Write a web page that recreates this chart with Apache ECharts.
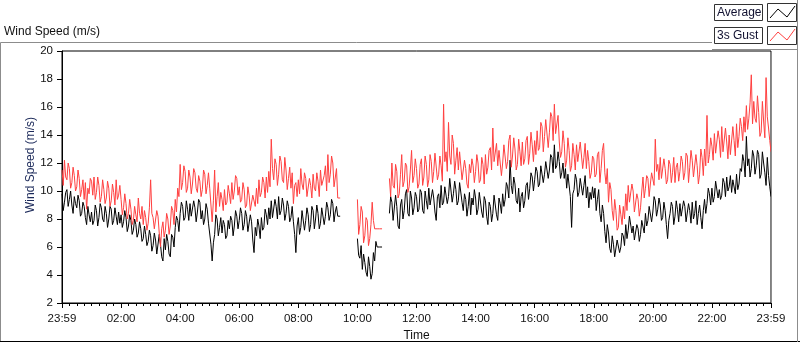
<!DOCTYPE html>
<html>
<head>
<meta charset="utf-8">
<script src="https://cdn.jsdelivr.net/npm/echarts@6/dist/echarts.min.js"></script>
<style>
html,body{margin:0;padding:0;background:#fff;}
#chart{width:800px;height:342px;}
</style>
</head>
<body>
<div id="chart"></div>
<script>
// sample spacing (minutes); first sample at 23:59 of previous day (minute 0)
const stepMin = 5;
const xTickLabels = ['23:59','02:00','04:00','06:00','08:00','10:00','12:00','14:00','16:00','18:00','20:00','22:00','23:59'];
const yTicks = [2,4,6,8,10,12,14,16,18,20];

// Average wind speed (m/s), readings on the 5-minute marks, one row per hour
const avg = [
  9.8, 9.2,10.1, 9.4, 9.0, 9.6, 8.8, 9.3, 8.4, 8.9, 7.6, 8.3,
  8.5, 7.9, 8.6, 8.1, 8.8, 7.8, 8.4, 8.0, 8.7, 7.9, 8.2, 8.5,
  8.3, 7.8, 8.1, 7.5, 7.9, 7.2, 7.6, 7.0, 7.3, 6.6, 6.9, 6.4,
  6.8, 6.1, 6.5, 5.6, 6.2, 5.0, 5.8, 6.4, 5.3, 6.7, 7.4, 7.9,
  8.4, 8.9, 8.1, 8.7, 9.1, 8.3, 8.8, 8.5, 9.2, 8.6, 8.0, 8.7,
  7.8, 5.0, 6.9, 8.0, 7.4, 7.0, 7.6, 6.8, 7.3, 7.9, 7.5, 8.2,
  7.9, 8.4, 7.6, 8.2, 7.0, 7.8, 5.6, 6.8, 7.5, 8.1, 7.4, 8.3,
  8.8, 9.3, 8.2, 8.9, 9.6, 8.6, 9.0, 8.4, 8.9, 8.1, 7.8, 5.6,
  8.1, 7.4, 8.5, 7.9, 8.3, 7.6, 8.6, 8.0, 8.4, 7.7, 8.9, 8.2,
  8.8, 8.3, 9.1, 8.5, 8.2, 8.2, null,null,null,null,null,null,
  6.6, 5.2, 4.4, 4.9, 3.9, 4.6, 4.1, 5.0, 6.0, 6.0, 6.0, null,
  null,8.4, 9.2, 7.8, 8.9, 7.3, 9.4, 8.6,10.1, 8.2, 9.5, 8.8,
  9.6, 8.7, 9.9, 8.4, 9.3,10.2, 8.9, 9.5, 7.9, 9.8,10.4, 9.2,
  10.3,9.6,10.8, 9.8,10.1, 9.3,10.5, 8.6, 9.4, 8.9, 8.3, 9.0,
  9.5, 8.7, 9.8, 8.1, 9.3, 7.6, 8.9, 8.4, 9.6, 7.9, 9.1, 9.8,
  9.4,10.3,12.2, 9.8,10.5, 9.1, 8.5, 9.9, 9.3,10.6,10.2,11.0,
  10.8,11.4,10.5,11.7,11.2,12.0,11.5,12.4,13.3,11.8,12.1,11.3,
  10.9,10.2,11.3, 7.4,10.1,10.8, 9.9,11.0,10.4, 9.5, 8.8, 9.4,
  9.5, 8.6,10.1, 7.8, 8.4, 6.3, 7.0, 5.6, 6.2, 5.4, 6.6, 6.0,
  6.8, 7.6, 7.2, 8.1, 7.5, 6.6, 7.3, 6.9, 7.8, 8.4, 7.9, 8.8,
  8.5, 9.3, 8.7, 9.0, 8.1, 8.6, 6.6, 8.4, 8.9, 8.2, 8.7, 9.1,
  8.3, 8.9, 7.9, 8.6, 9.2, 8.4, 7.6, 9.0, 7.3, 9.4, 9.1, 9.8,
  10.2,9.6,10.8,10.1, 9.7,10.6,11.0,10.3, 9.9,10.7,11.2,10.5,
  11.4,12.1,13.9,12.3,11.6,12.5,11.8,12.6,11.2,12.0,10.4,11.1,
  9.6
];
// Average wind speed, readings half-way between the 5-minute marks
const avgMid = [
  8.6, 9.9, 8.9,10.0, 8.4, 9.1, 9.7, 8.2, 9.2, 8.1, 8.9, 7.8,
  7.6, 9.0, 7.5, 9.1, 8.0, 8.9, 7.4, 8.9, 7.6, 8.8, 7.6, 7.7,
  7.4, 8.6, 7.1, 8.3, 6.9, 8.0, 6.7, 7.8, 6.4, 7.5, 6.1, 7.2,
  5.7, 7.0, 5.5, 6.9, 5.3, 6.6, 6.9, 5.5, 6.9, 6.0, 8.2, 7.1,
  9.2, 7.9, 9.3, 7.9, 8.2, 9.3, 7.8, 9.4, 8.0, 7.6, 9.1, 7.7,
  6.2, 6.3, 8.3, 6.8, 8.1, 7.9, 6.6, 7.9, 8.2, 6.8, 8.6, 7.3,
  8.8, 7.2, 8.6, 7.1, 8.3, 6.5, 7.4, 8.0, 6.6, 7.2, 8.7, 7.6,
  8.0, 8.1, 9.4, 8.0, 8.3, 9.5, 7.9, 9.3, 7.8, 8.9, 6.9, 7.5,
  6.9, 8.6, 7.2, 8.8, 7.1, 8.9, 7.3, 9.0, 7.3, 8.8, 7.6, 9.2,
  7.9, 9.4, 7.8, 8.9, 8.2, null,null,null,null,null,null,null,
  5.4, 6.1, 5.5, 4.2, 5.3, 3.7, 5.6, 6.4, 6.0, 6.0, null,null,
  null,9.6, 7.9, 9.7, 7.5, 9.0, 8.0, 9.8, 8.4,10.0, 8.3, 9.9,
  8.5,10.1, 8.6,10.0, 8.7, 9.0,10.1, 8.5, 9.6, 8.8, 9.0,10.3,
  9.1,10.9, 9.2,10.7, 9.0,10.6, 9.2, 9.8, 8.2, 9.9, 9.5,10.1,
  8.3, 9.9, 8.5, 9.6, 8.2, 9.2, 7.8, 9.7, 8.3, 9.5, 8.4, 8.9,
  10.6,9.5,10.4,11.0, 9.3,10.2, 9.6, 8.8,10.4, 9.4,11.3,10.0,
  11.7,10.3,11.8,10.6,12.1,10.9,12.6,11.3,11.6,12.8,10.9,12.0,
  11.6,11.2, 9.6, 9.8,11.2, 9.6,10.9, 9.7,11.1,10.3, 9.9,10.3,
  10.2,9.4, 8.4, 9.0, 7.1, 7.6, 5.9, 6.8, 5.3, 6.5, 5.6, 7.0,
  6.1, 6.6, 8.2, 7.0, 6.5, 7.6, 6.4, 7.9, 7.0, 7.5, 8.9, 7.8,
  9.6, 8.2, 9.5, 7.9, 9.2, 7.6, 7.9, 9.2, 7.6, 9.3, 7.8, 8.2,
  9.3, 7.8, 9.1, 7.7, 8.0, 9.3, 8.4, 8.1, 8.6, 8.4,10.2, 9.0,
  9.2,10.7, 9.5, 9.4,10.9, 9.6,10.0,11.1,10.8, 9.8,10.1,11.6,
  12.6,11.0,11.8,11.0,12.9,11.2,12.9,10.9,12.8,11.3,12.4,10.3
];

// 3 s gust wind speed (m/s), readings on the 5-minute marks, one row per hour
const gust = [
  11.5,12.2,10.8,11.6,10.6,11.1,10.3,10.9,10.1, 9.4, 8.7, 9.8,
  10.7,11.0, 9.9,10.4, 9.6,10.1, 9.5,10.2, 9.3, 9.9,10.8, 9.7,
  9.4, 8.8, 9.1, 8.4, 8.7, 7.9, 8.3, 9.5, 8.0, 7.6, 8.1, 7.7,
  10.8, 8.1, 7.4, 8.2, 6.0, 7.8, 7.2, 8.0, 7.5, 8.6, 9.4,10.2,
  11.9,10.6,11.4,10.2,11.0,10.5,11.3, 9.9,10.7,10.1,11.2,10.4,
  10.2, 7.8,11.5, 9.6, 8.9, 9.4,10.1, 9.2, 9.8,10.6,10.0,10.9,
  10.3, 9.4,10.1, 9.0, 9.7, 8.5, 9.6,10.2,10.8, 9.9,10.6,11.0,
  11.4,13.7,10.8,11.9,11.2,12.1,10.6,11.5,10.9,10.2, 9.1,10.6,
  10.8,11.6,10.1,10.9, 9.7,10.4,11.2,10.0,10.7,11.5,10.3,11.8,
  12.6,11.2,12.0,10.4, 9.5, 9.5, null,null,null,null,null,null,
  9.4, 7.6, 8.5, 6.8, 7.9, 6.6, 9.2, 7.3, 7.3, 7.3, 7.3, null,
  null,10.9,12.0,10.2,11.4, 9.8,12.6,10.7,11.8,10.3,12.9,11.1,
  11.6,10.5,12.3,11.0,11.9,10.8,12.1,11.4,12.6,11.2,11.8,16.2,
  12.8,14.9,11.9,13.4,12.2,11.5,12.7,10.9,11.6,10.2,11.3,11.8,
  11.4,12.0,10.8,11.9,12.6,11.7,13.1,14.5,12.2,11.8,12.9,12.0,
  13.4,12.1,14.0,12.5,13.0,11.9,12.8,13.5,12.3,13.9,12.7,13.3,
  13.6,14.3,13.1,14.6,13.9,15.0,14.2,15.3,16.2,14.0,13.5,12.8,
  13.4,12.2,12.9,11.8,12.6,13.3,12.0,13.6,12.4,11.6,12.1,11.3,
  12.3,11.2,12.8,11.6,13.4,10.5, 9.2,10.1, 7.9, 8.6, 7.4, 8.3,
  8.9, 9.8,10.4, 9.1,10.0, 8.6, 9.4, 8.8,11.0,10.2,10.9,10.5,
  11.2,13.7,11.9,12.4,11.0,11.6,10.8,11.9,11.3,10.6,12.0,11.4,
  12.1,11.3,12.5,11.7,12.2,10.9,11.8,11.2,12.4,13.0,15.4,12.6,
  13.2,14.1,12.8,13.7,14.6,12.9,13.5,14.0,12.7,13.6,14.8,13.9,
  14.6,15.3,16.1,15.2,18.3,16.4,14.9,15.6,14.2,15.0,18.1,14.5,
  12.8
];
// 3 s gust, readings half-way between the 5-minute marks
const gustMid = [
  10.4,11.0,12.0,10.2,11.7,10.0,11.5, 9.6,10.8,10.6,10.2,10.9,
  9.7, 9.4,11.0, 9.2,10.8, 9.1,10.7, 8.9,10.5, 9.0, 9.4,10.4,
  8.3, 9.8, 8.0, 9.4, 7.6, 8.9, 7.8, 8.4, 8.9, 8.6, 7.2, 8.8,
  8.4, 7.3, 8.6, 7.0, 7.3, 6.7, 8.4, 6.9, 8.9, 7.6, 8.5, 9.6,
  10.1,11.8, 9.9,11.5, 9.8,11.6,10.2,11.1, 9.6,11.5, 9.8,11.3,
  9.0, 9.3, 8.5,10.6, 9.9, 8.6, 9.0,10.4, 9.1, 9.4,11.1, 9.7,
  9.2,10.6, 8.8,10.3, 8.6, 9.7, 8.9, 9.1, 9.6,11.0, 9.5, 9.9,
  10.3,11.6,12.3,10.4,12.5,10.8,12.4,10.1,11.7,11.3,10.4, 9.6,
  9.8,10.5,11.3, 9.6,10.9, 9.5,10.2,11.3, 9.6,10.4,11.1,10.0,
  10.6,12.5,10.3,11.6, 9.5, null,null,null,null,null,null,null,
  6.9, 8.9, 6.3, 8.1, 6.1, 7.6, 7.9, 7.3, 7.3, 7.3, null,null,
  null,9.6,10.4,11.9, 9.5,11.2,10.3,12.0, 9.9,11.5,10.6,12.3,
  10.2,11.9,10.4,12.5,10.3,12.6,10.6,12.7,10.8,12.5,10.7,12.1,
  11.4,12.5,14.0,11.2,13.1,12.8,10.8,12.2,10.5,11.9,12.3,10.6,
  12.6,10.6,12.4,10.5,11.2,12.9,11.5,12.1,13.4,12.9,11.1,13.3,
  11.6,13.6,11.7,13.8,11.5,13.7,11.8,11.9,13.6,11.9,14.2,12.1,
  12.6,12.9,14.9,12.8,15.1,13.1,15.6,13.6,14.1,15.4,12.4,14.3,
  11.7,13.8,11.4,13.4,11.5,12.1,13.5,11.6,13.4,12.9,10.9,12.5,
  11.0,12.6,10.6,12.9,11.3,11.6,10.6, 8.6, 9.4, 7.2, 9.0, 7.6,
  8.0, 8.6, 9.2,10.5, 8.5, 9.8, 8.2,10.0, 9.5,11.1, 9.6,11.3,
  10.4,11.4,10.8,10.9,12.3,10.5,12.2,10.6,12.4,11.7,10.7,12.5,
  10.8,12.7,10.6,12.9,11.0,12.6,10.5,13.0,11.1,11.8,12.0,13.8,
  12.2,12.7,14.3,12.4,12.8,14.5,12.3,12.6,14.6,12.5,13.1,15.2,
  13.6,14.2,14.4,16.3,14.8,15.2,16.8,13.9,16.4,13.8,15.3,13.6
];

const seriesNames = ['Average', '3s Gust'];
const seriesColors = ['#000000', '#ff4040'];

// merge mark readings and half-step readings into [minute, value] pairs
const toPairs = (marks, mids) => {
  const out = [];
  marks.forEach((v, i) => {
    out.push([i * stepMin, v]);
    if (i < mids.length) out.push([i * stepMin + stepMin / 2, mids[i]]);
  });
  return out;
};

const chart = echarts.init(document.getElementById('chart'), null, {renderer: 'canvas'});
const FONT = 'Liberation Sans';
const tickLabelColor = '#111';

const L = 62, R = 771, T = 51, B = 303;

chart.setOption({
  animation: false,
  backgroundColor: '#ffffff',
  grid: {left: L, right: 800 - R, top: T, bottom: 342 - B, containLabel: false, outerBoundsMode: 'none',
         show: true, borderColor: '#000', borderWidth: 1, backgroundColor: '#ffffff'},
  xAxis: {
    type: 'value', min: 0, max: 1440, interval: 120,
    name: 'Time', nameLocation: 'middle', nameGap: 27,
    nameTextStyle: {fontFamily: FONT, fontSize: 12, color: '#111'},
    axisLine: {show: true, lineStyle: {color: '#000', width: 1}},
    axisTick: {show: true, length: 5, lineStyle: {color: '#000'}},
    minorTick: {show: true, splitNumber: 8, length: 3, lineStyle: {color: '#000'}},
    splitLine: {show: false},
    axisLabel: {
      fontFamily: FONT, fontSize: 11.5, color: tickLabelColor, margin: 10,
      showMinLabel: true, showMaxLabel: true,
      formatter: v => xTickLabels[Math.round(v / 120)]
    }
  },
  yAxis: {
    type: 'value', min: yTicks[0], max: yTicks[yTicks.length - 1], interval: 2,
    axisLine: {show: true, lineStyle: {color: '#000', width: 1}},
    axisTick: {show: true, length: 5, lineStyle: {color: '#000'}},
    splitLine: {show: false},
    axisLabel: {fontFamily: FONT, fontSize: 11.5, color: tickLabelColor, margin: 9}
  },
  series: [
    {name: seriesNames[0], type: 'line', data: toPairs(avg, avgMid), showSymbol: false, symbol: 'none',
     connectNulls: false, lineStyle: {color: seriesColors[0], width: 1}, itemStyle: {color: seriesColors[0]}, z: 2},
    {name: seriesNames[1], type: 'line', data: toPairs(gust, gustMid), showSymbol: false, symbol: 'none',
     connectNulls: false, lineStyle: {color: seriesColors[1], width: 1}, itemStyle: {color: seriesColors[1]}, z: 3}
  ],
  graphic: [
    {type: 'line', silent: true, shape: {x1: 0.5, y1: 42.5, x2: 712, y2: 42.5}, style: {stroke: '#8c8c8c', lineWidth: 1}},
    {type: 'line', silent: true, shape: {x1: 0.5, y1: 42.5, x2: 0.5, y2: 341}, style: {stroke: '#8c8c8c', lineWidth: 1}},
    {type: 'line', silent: true, shape: {x1: 0, y1: 341.5, x2: 800, y2: 341.5}, style: {stroke: '#000', lineWidth: 1}},
    {type: 'line', silent: true, shape: {x1: 797.5, y1: 0, x2: 797.5, y2: 342}, style: {stroke: '#8c8c8c', lineWidth: 1}},
    {type: 'line', silent: true, shape: {x1: 712, y1: 49.5, x2: 797, y2: 49.5}, style: {stroke: '#8c8c8c', lineWidth: 1}},
    {type: 'line', silent: true, z: 10, shape: {x1: R + 0.5, y1: T, x2: R + 0.5, y2: B}, style: {stroke: '#8c8c8c', lineWidth: 1}},
    {type: 'text', silent: true, left: 4, top: 26, style: {text: 'Wind Speed (m/s)', fontFamily: FONT, fontSize: 12, fill: '#111'}},
    {type: 'text', silent: true, x: 31, y: 165, rotation: Math.PI / 2,
     style: {text: 'Wind Speed (m/s)', fontFamily: FONT, fontSize: 12, fill: '#1c2a5a', align: 'center', verticalAlign: 'middle'}},
    {type: 'rect', silent: true, shape: {x: 714.5, y: 4.5, width: 48, height: 16}, style: {fill: '#fff', stroke: '#333', lineWidth: 1}},
    {type: 'text', silent: true, x: 717, y: 12.5, style: {text: seriesNames[0], fontFamily: FONT, fontSize: 12, fill: '#101030', verticalAlign: 'middle'}},
    {type: 'rect', silent: true, shape: {x: 767.5, y: 3.5, width: 29, height: 18}, style: {fill: '#fff', stroke: '#333', lineWidth: 1}},
    {type: 'polyline', silent: true, shape: {points: [[770, 18], [778, 9], [787, 17], [795, 6]]}, style: {stroke: seriesColors[0], lineWidth: 1, fill: null}},
    {type: 'rect', silent: true, shape: {x: 714.5, y: 27.5, width: 48, height: 16}, style: {fill: '#fff', stroke: '#333', lineWidth: 1}},
    {type: 'text', silent: true, x: 717, y: 35.5, style: {text: seriesNames[1], fontFamily: FONT, fontSize: 12, fill: '#101030', verticalAlign: 'middle'}},
    {type: 'rect', silent: true, shape: {x: 767.5, y: 26.5, width: 29, height: 18}, style: {fill: '#fff', stroke: '#333', lineWidth: 1}},
    {type: 'polyline', silent: true, shape: {points: [[770, 41], [778, 32], [787, 40], [795, 29]]}, style: {stroke: seriesColors[1], lineWidth: 1, fill: null}}
  ]
});
</script>
</body>
</html>
